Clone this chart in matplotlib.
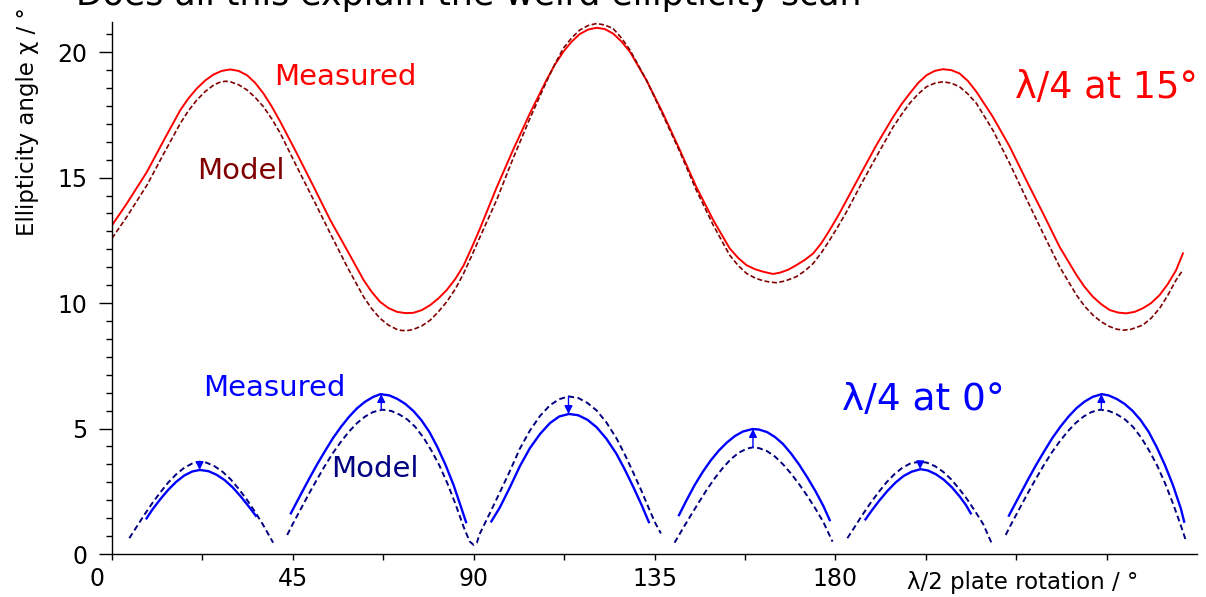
# ellipticity scan, measured vs model

import matplotlib
matplotlib.use('Agg')
import matplotlib.pyplot as plt
import numpy as np
from matplotlib.transforms import ScaledTranslation


# lambda/4 at 15 deg - measured
red_meas_x = [0, 3.7, 8.7, 12.9, 17.0, 19.0, 21.1, 23.2, 25.3, 27.3, 29.4, 31.5, 33.6,
              35.6, 37.7, 39.8, 41.9, 46.0, 50.2, 54.3, 58.5, 62.6, 64.6, 66.7, 68.8,
              70.9, 73.0, 75.0, 77.1, 79.2, 81.2, 83.3, 85.4, 87.5, 89.5, 91.6, 95.7,
              99.8, 104.0, 108.1, 110.2, 112.3, 114.4, 116.4, 118.5, 120.6, 122.6,
              124.7, 126.8, 128.9, 133.0, 137.1, 141.3, 145.4, 149.6, 153.7, 155.8,
              157.9, 160.0, 162.0, 164.5, 166.2, 168.3, 170.3, 172.4, 174.5, 176.5,
              178.6, 180.7, 182.8, 186.5, 190.2, 194.4, 196.5, 198.5, 200.6, 202.7,
              204.7, 206.8, 208.9, 210.9, 213.0, 215.1, 219.2, 223.4, 227.5, 231.7,
              235.8, 240.0, 242.0, 244.1, 246.2, 248.3, 250.4, 252.4, 254.5, 256.5,
              258.6, 260.7, 262.7, 264.8, 266.5]
red_meas_y = [13.1, 13.97, 15.23, 16.49, 17.69, 18.15, 18.55, 18.87, 19.11, 19.25, 19.31,
              19.25, 19.08, 18.78, 18.35, 17.82, 17.22, 15.96, 14.63, 13.31, 12.11,
              10.92, 10.45, 10.05, 9.80, 9.65, 9.60, 9.61, 9.72, 9.92, 10.18, 10.52,
              10.95, 11.50, 12.20, 12.98, 14.6, 16.1, 17.56, 18.88, 19.50, 20.01, 20.42,
              20.72, 20.90, 20.97, 20.92, 20.74, 20.42, 20.01, 18.88, 17.56, 16.10,
              14.63, 13.31, 12.18, 11.80, 11.51, 11.35, 11.25, 11.16, 11.21, 11.33,
              11.51, 11.72, 11.98, 12.38, 12.91, 13.48, 14.10, 15.2, 16.29, 17.42,
              17.93, 18.35, 18.77, 19.08, 19.25, 19.32, 19.28, 19.15, 18.85, 18.42,
              17.42, 16.23, 14.90, 13.57, 12.24, 11.12, 10.65, 10.25, 9.95, 9.72, 9.62,
              9.59, 9.65, 9.79, 10.0, 10.32, 10.75, 11.31, 11.98]

# lambda/4 at 15 deg - model
red_model_x = [0, 3.7, 8.7, 12.9, 17.0, 19.0, 21.1, 23.2, 25.3, 26.7, 28.2, 29.4, 31.5,
               33.6, 35.6, 37.7, 39.8, 41.9, 46.0, 50.2, 54.3, 58.5, 62.6, 64.6, 66.7,
               68.8, 70.9, 71.9, 73.4, 75.0, 77.1, 79.2, 81.2, 83.3, 85.4, 87.5, 89.5,
               91.6, 95.7, 99.8, 104.0, 108.1, 110.2, 112.3, 114.4, 116.4, 118.5, 120.6,
               122.6, 124.7, 126.8, 128.9, 133.0, 137.1, 141.3, 145.4, 149.6, 153.7,
               155.8, 157.9, 160.0, 162.0, 163.6, 165.3, 167.5, 170.3, 172.4, 174.5,
               176.5, 178.6, 180.7, 182.8, 186.5, 190.2, 194.4, 196.5, 198.5, 200.6,
               202.7, 204.7, 206.8, 208.9, 210.9, 213.0, 215.1, 219.2, 223.4, 227.5,
               231.7, 235.8, 240.0, 242.0, 244.1, 246.2, 248.3, 250.0, 251.6, 253.5,
               256.5, 258.6, 260.7, 262.7, 264.8, 266.2]
red_model_y = [12.58, 13.44, 14.70, 15.96, 17.16, 17.66, 18.09, 18.43, 18.69, 18.79,
               18.84, 18.82, 18.70, 18.49, 18.20, 17.82, 17.33, 16.76, 15.43, 14.10,
               12.78, 11.45, 10.25, 9.78, 9.39, 9.12, 8.95, 8.91, 8.90, 8.95, 9.09,
               9.32, 9.65, 10.05, 10.55, 11.18, 11.88, 12.64, 14.10, 15.76, 17.36,
               18.82, 19.52, 20.15, 20.57, 20.88, 21.06, 21.14, 21.08, 20.94, 20.56,
               20.08, 18.88, 17.49, 16.03, 14.50, 13.11, 11.91, 11.50, 11.18, 11.00,
               10.89, 10.84, 10.81, 10.88, 11.05, 11.28, 11.58, 12.00, 12.51, 13.06,
               13.64, 14.76, 15.83, 17.02, 17.52, 17.96, 18.33, 18.62, 18.76, 18.82,
               18.76, 18.62, 18.33, 17.96, 16.89, 15.56, 14.17, 12.78, 11.45, 10.32,
               9.88, 9.52, 9.25, 9.06, 8.96, 8.92, 8.95, 9.12, 9.40, 9.79, 10.30, 10.92,
               11.25]

# lambda/4 at 0 deg - model, one list per dashed piece
blue_model_x = [
    [4.3, 6, 8, 10, 12, 14, 16, 18, 20, 21.7, 23.5, 25.5, 27.5, 29.5, 31.5, 33.5, 35.5,
     37.5, 40.1],
    [43.6, 45, 47, 49, 51, 53, 55, 57, 59, 61, 63, 65, 67.3, 69.5, 71.5, 73.5, 75.5,
     77.5, 79.5, 81.5, 83.5, 85.5, 87.5, 89.0, 90.0, 90.8, 91.5, 94, 96.5, 99, 101.5,
     104, 106.5, 109, 111.3, 113.6, 116, 118.3, 120.6, 123, 125.5, 127.5, 129.7, 131.8,
     133.8, 135.3, 136.6],
    [140.0, 142, 144, 146, 148, 150, 152, 154, 156, 158, 159.5, 161, 163, 165, 167, 169,
     171, 173, 175, 177, 179.3],
    [183, 184.7, 186.7, 188.7, 190.7, 192.7, 194.7, 196.7, 198.7, 201.0, 202.8, 204.8,
     206.8, 208.8, 210.8, 212.8, 214.8, 216.8, 218.9],
    [222.4, 223.8, 225.8, 227.8, 229.8, 231.8, 233.8, 235.8, 237.8, 239.8, 241.8, 243.8,
     245.9, 248.1, 250.1, 252.1, 254.1, 256.1, 258.1, 260.1, 262.1, 264.1, 266.1, 267.3],
]
blue_model_y = [
    [0.63, 1.05, 1.55, 2.02, 2.45, 2.85, 3.18, 3.44, 3.61, 3.68, 3.64, 3.50, 3.28, 2.98,
     2.60, 2.18, 1.70, 1.19, 0.45],
    [0.76, 1.20, 1.80, 2.40, 2.97, 3.52, 4.03, 4.48, 4.88, 5.22, 5.48, 5.66, 5.75, 5.70,
     5.56, 5.36, 5.06, 4.64, 4.12, 3.52, 2.80, 1.98, 1.08, 0.50, 0.36, 0.45, 0.80, 1.62,
     2.45, 3.30, 4.20, 4.92, 5.50, 5.93, 6.17, 6.28, 6.22, 6.02, 5.72, 5.25, 4.62, 4.00,
     3.25, 2.50, 1.74, 1.20, 0.82],
    [0.45, 1.00, 1.53, 2.05, 2.56, 3.02, 3.43, 3.78, 4.04, 4.20, 4.25, 4.22, 4.10, 3.88,
     3.57, 3.20, 2.78, 2.32, 1.82, 1.28, 0.49],
    [0.63, 1.05, 1.55, 2.02, 2.45, 2.85, 3.18, 3.44, 3.61, 3.68, 3.64, 3.50, 3.28, 2.98,
     2.60, 2.18, 1.70, 1.19, 0.43],
    [0.76, 1.20, 1.80, 2.40, 2.97, 3.52, 4.03, 4.48, 4.88, 5.22, 5.48, 5.66, 5.75, 5.70,
     5.56, 5.36, 5.06, 4.64, 4.12, 3.52, 2.80, 1.98, 1.08, 0.50],
]

# lambda/4 at 0 deg - measured, one list per arc
blue_meas_x = [
    [8.6, 10, 12, 14, 16, 18, 20, 21.9, 24, 26, 28, 30, 32, 34, 35.8],
    [44.5, 47, 49, 51, 53, 55, 57, 59, 61, 63, 65, 66.8, 69, 71, 73, 75, 77, 79, 81, 83,
     85, 87, 88.1],
    [94.4, 96.5, 99, 101.5, 104, 106.5, 109, 111.3, 113.7, 116, 118.3, 120.6, 123,
     125.5, 127.5, 129.7, 131.8, 133.6],
    [141.1, 143, 145, 147, 149, 151, 153, 155, 157, 159.4, 161, 163, 165, 167, 169, 171,
     173, 175, 177, 178.6],
    [187.5, 189, 191, 193, 195, 197, 199, 201.2, 203, 205, 207, 209, 211, 212.5, 213.7],
    [223.2, 226, 228, 230, 232, 234, 236, 238, 240, 242, 244, 246.3, 248, 250, 252, 254,
     256, 258, 260, 262, 264, 266, 266.8],
]
blue_meas_y = [
    [1.42, 1.76, 2.18, 2.56, 2.88, 3.13, 3.29, 3.35, 3.30, 3.16, 2.95, 2.66, 2.30, 1.90,
     1.52],
    [1.62, 2.38, 2.98, 3.56, 4.10, 4.62, 5.07, 5.47, 5.81, 6.07, 6.26, 6.37, 6.32, 6.18,
     5.98, 5.70, 5.33, 4.86, 4.25, 3.55, 2.75, 1.80, 1.27],
    [1.30, 1.85, 2.65, 3.50, 4.22, 4.78, 5.22, 5.48, 5.58, 5.53, 5.35, 5.05, 4.60, 4.00,
     3.40, 2.68, 1.95, 1.27],
    [1.55, 2.15, 2.75, 3.27, 3.73, 4.12, 4.44, 4.70, 4.88, 4.98, 4.96, 4.86, 4.66, 4.38,
     4.00, 3.56, 3.06, 2.52, 1.92, 1.35],
    [1.38, 1.72, 2.14, 2.52, 2.85, 3.11, 3.28, 3.38, 3.33, 3.18, 2.96, 2.66, 2.28, 1.95,
     1.62],
    [1.53, 2.38, 2.98, 3.56, 4.10, 4.62, 5.07, 5.47, 5.81, 6.07, 6.26, 6.37, 6.32, 6.18,
     5.98, 5.70, 5.33, 4.86, 4.25, 3.55, 2.75, 1.80, 1.29],
]

# arrows model peak -> measured peak
peak_x = [21.8, 67.0, 113.6, 159.5, 201.1, 246.2]
peak_model = [3.68, 5.75, 6.28, 4.25, 3.68, 5.75]
peak_meas = [3.35, 6.37, 5.58, 4.98, 3.38, 6.37]

xtick_pos = [0, 22.5, 45, 67.5, 90, 112.5, 135, 157.5, 180, 202.5, 225, 247.5]
xtick_lab = ['0', '', '45', '', '90', '', '135', '', '180', '', '', '']


W, H = 1206, 597
fig = plt.figure(figsize=(W / 100, H / 100), dpi=100)
ax = fig.add_axes([112 / W, 1 - 554 / H, (1197 - 112) / W, (554 - 22) / H])
ax.set_xlim(0, 270)
ax.set_ylim(0, 21.2)

ax.plot(red_meas_x, red_meas_y, color='#ff0000', lw=1.4, solid_joinstyle='round')
ax.plot(red_model_x, red_model_y, color='#800000', lw=1.2, ls=(0, (3, 1.5)))

for xs, ys in zip(blue_model_x, blue_model_y):
    ax.plot(xs, ys, color='#000080', lw=1.4, ls=(0, (3, 1.8)))
for xs, ys in zip(blue_meas_x, blue_meas_y):
    ax.plot(xs, ys, color='#0000ff', lw=1.7, solid_joinstyle='round')

for px, y0, y1 in zip(peak_x, peak_model, peak_meas):
    ax.annotate('', xy=(px, y1), xytext=(px, y0),
                arrowprops=dict(arrowstyle='-|>', color='#0000ff', lw=1.0,
                                mutation_scale=12, shrinkA=0, shrinkB=0))

# labels on the curves
ax.text(58.0, 19.0, 'Measured', color='#ff0000', fontsize=21, ha='center', va='center')
ax.text(32.1, 15.26, 'Model', color='#800000', fontsize=21, ha='center', va='center')
ax.text(247.5, 18.6, 'λ/4 at 15°', color='#ff0000', fontsize=26.5, ha='center', va='center')
ax.text(40.3, 6.61, 'Measured', color='#0000ff', fontsize=21, ha='center', va='center')
ax.text(65.4, 3.39, 'Model', color='#000080', fontsize=21, ha='center', va='center')
ax.text(202.0, 6.14, 'λ/4 at 0°', color='#0000ff', fontsize=27, ha='center', va='center')

# axes, sage style
for s in ['top', 'right']:
    ax.spines[s].set_visible(False)
for s in ['left', 'bottom']:
    ax.spines[s].set_linewidth(1.0)

ax.set_xticks(xtick_pos)
ax.set_xticklabels(xtick_lab)
ax.set_yticks([0, 5, 10, 15, 20])
ax.set_yticks(np.arange(0, 21.2, 5 / 7), minor=True)
ax.tick_params(axis='x', length=4.5, width=1.0, labelsize=17, pad=5)
ax.tick_params(axis='y', which='major', length=9.5, width=1.0, labelsize=17, pad=8)
ax.tick_params(axis='y', which='minor', length=4.5, width=1.0)

# the x "0" sits left of its tick
lab0 = ax.get_xticklabels()[0]
lab0.set_transform(lab0.get_transform() + ScaledTranslation(-0.15, 0, fig.dpi_scale_trans))

fig.text(1023 / W, 1 - 583 / H, 'λ/2 plate rotation / °', fontsize=16.5,
         ha='center', va='center')
fig.text(28 / W, 1 - 122 / H, 'Ellipticity angle χ / °', fontsize=16.5,
         ha='center', va='center', rotation=90)

# slide title, cut off at the top
fig.text(469 / W, 1 - 5 / H, 'Does all this explain the weird ellipticity scan',
         fontsize=25, ha='center', va='baseline')

fig.savefig('out.png', dpi=100)
